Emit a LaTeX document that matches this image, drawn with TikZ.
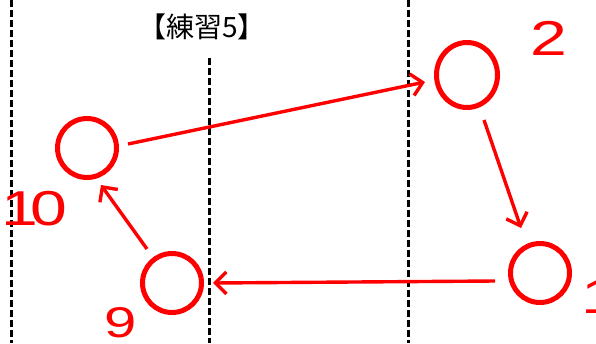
\documentclass[tikz,border=0pt]{standalone}
\usepackage{fontspec}
\setmainfont{Liberation Sans}
\newfontfamily\cjk{Noto Sans CJK JP}
\newfontfamily\numfont[FakeStretch=1.35]{Liberation Sans}
\usetikzlibrary{arrows.meta,shapes.geometric}
\begin{document}
\begin{tikzpicture}[x=1pt,y=-1pt,
  ring/.style={circle,draw=red,line width=5pt,minimum size=59pt,inner sep=0pt},
  conn/.style={draw=red,line width=3.4pt,-{Straight Barb[length=11pt,width=22pt,line width=3.4pt]}},
  guide/.style={draw=black,line width=3pt,dash pattern=on 7pt off 3pt},
  num/.style={text=red,font=\numfont\fontsize{49}{49}\selectfont,anchor=base west,inner sep=0pt}]
\useasboundingbox (0,0) rectangle (596,343);
\coordinate (g1t) at (11,0); \coordinate (g1b) at (11,343);
\coordinate (g2t) at (209,58); \coordinate (g2b) at (209,343);
\coordinate (g3t) at (408,0); \coordinate (g3b) at (408,343);
\draw[guide] (g1t) -- (g1b);
\draw[guide] (g2t) -- (g2b);
\draw[guide] (g3t) -- (g3b);
\node[font=\cjk\fontsize{28}{28}\selectfont] (title) at (202,27) {【練習5】};
\node[ring] (c10) at (87,148) {};
\node[ring,ellipse,minimum width=61pt,minimum height=65pt] (c2) at (467,75) {};
\node[ring] (c1) at (540,273) {};
\node[ring] (c9) at (172,283) {};
\node[num] (l10) at (1,225) {1\kern-8pt 0};
\node[num] (l2) at (530,55) {2};
\node[num,font=\numfont\fontsize{43}{43}\selectfont] (l9) at (104.5,337) {9};
\node[num] (l1) at (581,313) {1};
\coordinate (s1) at (128,144); \coordinate (e1) at (425,82);
\coordinate (s2) at (484,120); \coordinate (e2) at (521,228);
\coordinate (s3) at (495,281); \coordinate (e3) at (213,283);
\coordinate (s4) at (147,249); \coordinate (e4) at (101,185);
\draw[conn] (s1) -- (e1);
\draw[conn] (s2) -- (e2);
\draw[conn] (s3) -- (e3);
\draw[conn] (s4) -- (e4);
\end{tikzpicture}
\end{document}
